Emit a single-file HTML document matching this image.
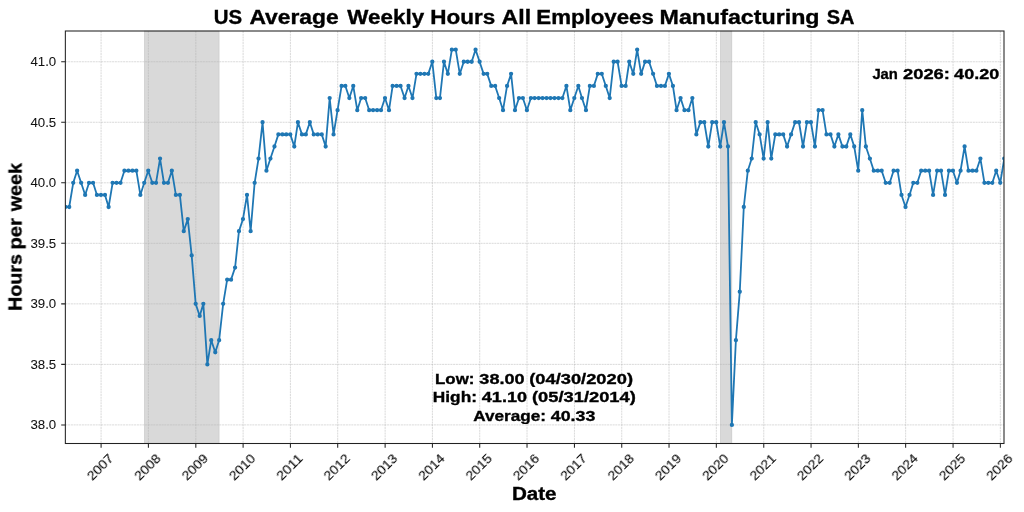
<!DOCTYPE html>
<html><head><meta charset="utf-8"><style>html,body{margin:0;padding:0;background:#fff;}svg{display:block;} text{will-change:transform;}</style></head><body>
<svg width="1024" height="512" viewBox="0 0 1024 512">
<rect width="1024" height="512" fill="#fff"/>
<defs><clipPath id="ax"><rect x="65.35" y="31.0" width="938.65" height="412.5"/></clipPath></defs>
<rect x="144.37" y="31.0" width="74.77" height="412.5" fill="#808080" fill-opacity="0.3" stroke="#808080" stroke-opacity="0.3" stroke-width="0.6"/>
<rect x="720.35" y="31.0" width="11.53" height="412.5" fill="#808080" fill-opacity="0.3" stroke="#808080" stroke-opacity="0.3" stroke-width="0.6"/>
<path d="M101.09 31.0V443.5M148.39 31.0V443.5M195.82 31.0V443.5M243.11 31.0V443.5M290.41 31.0V443.5M337.70 31.0V443.5M385.13 31.0V443.5M432.42 31.0V443.5M479.72 31.0V443.5M527.02 31.0V443.5M574.44 31.0V443.5M621.74 31.0V443.5M669.03 31.0V443.5M716.33 31.0V443.5M763.76 31.0V443.5M811.05 31.0V443.5M858.35 31.0V443.5M905.64 31.0V443.5M953.07 31.0V443.5M1000.36 31.0V443.5M65.35 424.90H1004.0M65.35 364.38H1004.0M65.35 303.85H1004.0M65.35 243.32H1004.0M65.35 182.80H1004.0M65.35 122.27H1004.0M65.35 61.75H1004.0" stroke="#b0b0b0" stroke-width="0.6" stroke-opacity="0.8" stroke-dasharray="2.05 0.7" fill="none"/>
<g clip-path="url(#ax)">
<polyline points="65.33,207.01 69.22,207.01 73.23,182.80 77.12,170.69 81.14,182.80 85.16,194.91 89.04,182.80 93.06,182.80 96.95,194.91 100.96,194.91 104.98,194.91 108.61,207.01 112.63,182.80 116.51,182.80 120.53,182.80 124.42,170.69 128.43,170.69 132.45,170.69 136.34,170.69 140.36,194.91 144.24,182.80 148.26,170.69 152.28,182.80 156.03,182.80 160.05,158.59 163.94,182.80 167.96,182.80 171.84,170.69 175.86,194.91 179.88,194.91 183.76,231.22 187.78,219.11 191.67,255.43 195.69,303.85 199.70,315.96 203.33,303.85 207.35,364.38 211.23,340.16 215.25,352.27 219.14,340.16 223.16,303.85 227.17,279.64 231.06,279.64 235.08,267.54 238.96,231.22 242.98,219.11 247.00,194.91 250.63,231.22 254.64,182.80 258.53,158.59 262.55,122.27 266.44,170.69 270.45,158.59 274.47,146.49 278.36,134.38 282.37,134.38 286.26,134.38 290.28,134.38 294.29,146.49 297.92,122.27 301.94,134.38 305.83,134.38 309.84,122.27 313.73,134.38 317.75,134.38 321.76,134.38 325.65,146.49 329.67,98.06 333.56,134.38 337.57,110.17 341.59,85.96 345.35,85.96 349.36,98.06 353.25,85.96 357.27,110.17 361.16,98.06 365.17,98.06 369.19,110.17 373.08,110.17 377.09,110.17 380.98,110.17 385.00,98.06 389.02,110.17 392.64,85.96 396.66,85.96 400.55,85.96 404.57,98.06 408.45,85.96 412.47,98.06 416.49,73.86 420.37,73.86 424.39,73.86 428.28,73.86 432.29,61.75 436.31,98.06 439.94,98.06 443.96,61.75 447.84,73.86 451.86,49.64 455.75,49.64 459.77,73.86 463.78,61.75 467.67,61.75 471.69,61.75 475.57,49.64 479.59,61.75 483.61,73.86 487.24,73.86 491.25,85.96 495.14,85.96 499.16,98.06 503.04,110.17 507.06,85.96 511.08,73.86 514.97,110.17 518.98,98.06 522.87,98.06 526.89,110.17 530.90,98.06 534.66,98.06 538.68,98.06 542.57,98.06 546.58,98.06 550.47,98.06 554.49,98.06 558.50,98.06 562.39,98.06 566.41,85.96 570.30,110.17 574.31,98.06 578.33,85.96 581.96,98.06 585.97,110.17 589.86,85.96 593.88,85.96 597.77,73.86 601.78,73.86 605.80,85.96 609.69,98.06 613.70,61.75 617.59,61.75 621.61,85.96 625.63,85.96 629.25,61.75 633.27,73.86 637.16,49.64 641.17,73.86 645.06,61.75 649.08,61.75 653.10,73.86 656.98,85.96 661.00,85.96 664.89,85.96 668.90,73.86 672.92,85.96 676.55,110.17 680.57,98.06 684.45,110.17 688.47,110.17 692.36,98.06 696.37,134.38 700.39,122.27 704.28,122.27 708.30,146.49 712.18,122.27 716.20,122.27 720.22,146.49 723.97,122.27 727.99,146.49 731.88,424.90 735.90,340.16 739.78,291.74 743.80,207.01 747.82,170.69 751.70,158.59 755.72,122.27 759.61,134.38 763.63,158.59 767.64,122.27 771.27,158.59 775.29,134.38 779.18,134.38 783.19,134.38 787.08,146.49 791.10,134.38 795.11,122.27 799.00,122.27 803.02,146.49 806.90,122.27 810.92,122.27 814.94,146.49 818.57,110.17 822.58,110.17 826.47,134.38 830.49,134.38 834.38,146.49 838.39,134.38 842.41,146.49 846.30,146.49 850.31,134.38 854.20,146.49 858.22,170.69 862.23,110.17 865.86,146.49 869.88,158.59 873.77,170.69 877.78,170.69 881.67,170.69 885.69,182.80 889.71,182.80 893.59,170.69 897.61,170.69 901.50,194.91 905.51,207.01 909.53,194.91 913.29,182.80 917.31,182.80 921.19,170.69 925.21,170.69 929.10,170.69 933.11,194.91 937.13,170.69 941.02,170.69 945.04,194.91 948.92,170.69 952.94,170.69 956.96,182.80 960.58,170.69 964.60,146.49 968.49,170.69 972.51,170.69 976.39,170.69 980.41,158.59 984.43,182.80 988.31,182.80 992.33,182.80 996.22,170.69 1000.24,182.80 1004.25,158.59" fill="none" stroke="#1f77b4" stroke-width="1.8" stroke-linejoin="round"/>
<path d="M65.33 207.01h0M69.22 207.01h0M73.23 182.80h0M77.12 170.69h0M81.14 182.80h0M85.16 194.91h0M89.04 182.80h0M93.06 182.80h0M96.95 194.91h0M100.96 194.91h0M104.98 194.91h0M108.61 207.01h0M112.63 182.80h0M116.51 182.80h0M120.53 182.80h0M124.42 170.69h0M128.43 170.69h0M132.45 170.69h0M136.34 170.69h0M140.36 194.91h0M144.24 182.80h0M148.26 170.69h0M152.28 182.80h0M156.03 182.80h0M160.05 158.59h0M163.94 182.80h0M167.96 182.80h0M171.84 170.69h0M175.86 194.91h0M179.88 194.91h0M183.76 231.22h0M187.78 219.11h0M191.67 255.43h0M195.69 303.85h0M199.70 315.96h0M203.33 303.85h0M207.35 364.38h0M211.23 340.16h0M215.25 352.27h0M219.14 340.16h0M223.16 303.85h0M227.17 279.64h0M231.06 279.64h0M235.08 267.54h0M238.96 231.22h0M242.98 219.11h0M247.00 194.91h0M250.63 231.22h0M254.64 182.80h0M258.53 158.59h0M262.55 122.27h0M266.44 170.69h0M270.45 158.59h0M274.47 146.49h0M278.36 134.38h0M282.37 134.38h0M286.26 134.38h0M290.28 134.38h0M294.29 146.49h0M297.92 122.27h0M301.94 134.38h0M305.83 134.38h0M309.84 122.27h0M313.73 134.38h0M317.75 134.38h0M321.76 134.38h0M325.65 146.49h0M329.67 98.06h0M333.56 134.38h0M337.57 110.17h0M341.59 85.96h0M345.35 85.96h0M349.36 98.06h0M353.25 85.96h0M357.27 110.17h0M361.16 98.06h0M365.17 98.06h0M369.19 110.17h0M373.08 110.17h0M377.09 110.17h0M380.98 110.17h0M385.00 98.06h0M389.02 110.17h0M392.64 85.96h0M396.66 85.96h0M400.55 85.96h0M404.57 98.06h0M408.45 85.96h0M412.47 98.06h0M416.49 73.86h0M420.37 73.86h0M424.39 73.86h0M428.28 73.86h0M432.29 61.75h0M436.31 98.06h0M439.94 98.06h0M443.96 61.75h0M447.84 73.86h0M451.86 49.64h0M455.75 49.64h0M459.77 73.86h0M463.78 61.75h0M467.67 61.75h0M471.69 61.75h0M475.57 49.64h0M479.59 61.75h0M483.61 73.86h0M487.24 73.86h0M491.25 85.96h0M495.14 85.96h0M499.16 98.06h0M503.04 110.17h0M507.06 85.96h0M511.08 73.86h0M514.97 110.17h0M518.98 98.06h0M522.87 98.06h0M526.89 110.17h0M530.90 98.06h0M534.66 98.06h0M538.68 98.06h0M542.57 98.06h0M546.58 98.06h0M550.47 98.06h0M554.49 98.06h0M558.50 98.06h0M562.39 98.06h0M566.41 85.96h0M570.30 110.17h0M574.31 98.06h0M578.33 85.96h0M581.96 98.06h0M585.97 110.17h0M589.86 85.96h0M593.88 85.96h0M597.77 73.86h0M601.78 73.86h0M605.80 85.96h0M609.69 98.06h0M613.70 61.75h0M617.59 61.75h0M621.61 85.96h0M625.63 85.96h0M629.25 61.75h0M633.27 73.86h0M637.16 49.64h0M641.17 73.86h0M645.06 61.75h0M649.08 61.75h0M653.10 73.86h0M656.98 85.96h0M661.00 85.96h0M664.89 85.96h0M668.90 73.86h0M672.92 85.96h0M676.55 110.17h0M680.57 98.06h0M684.45 110.17h0M688.47 110.17h0M692.36 98.06h0M696.37 134.38h0M700.39 122.27h0M704.28 122.27h0M708.30 146.49h0M712.18 122.27h0M716.20 122.27h0M720.22 146.49h0M723.97 122.27h0M727.99 146.49h0M731.88 424.90h0M735.90 340.16h0M739.78 291.74h0M743.80 207.01h0M747.82 170.69h0M751.70 158.59h0M755.72 122.27h0M759.61 134.38h0M763.63 158.59h0M767.64 122.27h0M771.27 158.59h0M775.29 134.38h0M779.18 134.38h0M783.19 134.38h0M787.08 146.49h0M791.10 134.38h0M795.11 122.27h0M799.00 122.27h0M803.02 146.49h0M806.90 122.27h0M810.92 122.27h0M814.94 146.49h0M818.57 110.17h0M822.58 110.17h0M826.47 134.38h0M830.49 134.38h0M834.38 146.49h0M838.39 134.38h0M842.41 146.49h0M846.30 146.49h0M850.31 134.38h0M854.20 146.49h0M858.22 170.69h0M862.23 110.17h0M865.86 146.49h0M869.88 158.59h0M873.77 170.69h0M877.78 170.69h0M881.67 170.69h0M885.69 182.80h0M889.71 182.80h0M893.59 170.69h0M897.61 170.69h0M901.50 194.91h0M905.51 207.01h0M909.53 194.91h0M913.29 182.80h0M917.31 182.80h0M921.19 170.69h0M925.21 170.69h0M929.10 170.69h0M933.11 194.91h0M937.13 170.69h0M941.02 170.69h0M945.04 194.91h0M948.92 170.69h0M952.94 170.69h0M956.96 182.80h0M960.58 170.69h0M964.60 146.49h0M968.49 170.69h0M972.51 170.69h0M976.39 170.69h0M980.41 158.59h0M984.43 182.80h0M988.31 182.80h0M992.33 182.80h0M996.22 170.69h0M1000.24 182.80h0M1004.25 158.59h0" stroke="#1f77b4" stroke-width="4.3" stroke-linecap="round" fill="none"/>
</g>
<rect x="65.35" y="31.0" width="938.65" height="412.5" fill="none" stroke="#222" stroke-width="1.05"/>
<path d="M101.09 443.5v4.15M148.39 443.5v4.15M195.82 443.5v4.15M243.11 443.5v4.15M290.41 443.5v4.15M337.70 443.5v4.15M385.13 443.5v4.15M432.42 443.5v4.15M479.72 443.5v4.15M527.02 443.5v4.15M574.44 443.5v4.15M621.74 443.5v4.15M669.03 443.5v4.15M716.33 443.5v4.15M763.76 443.5v4.15M811.05 443.5v4.15M858.35 443.5v4.15M905.64 443.5v4.15M953.07 443.5v4.15M1000.36 443.5v4.15M65.35 424.90h-4.15M65.35 364.38h-4.15M65.35 303.85h-4.15M65.35 243.32h-4.15M65.35 182.80h-4.15M65.35 122.27h-4.15M65.35 61.75h-4.15" stroke="#222" stroke-width="1.05" fill="none"/>
<text x="56.2" y="429.40" font-family="Liberation Sans, sans-serif" font-size="12.1" text-anchor="end" textLength="25.8" lengthAdjust="spacingAndGlyphs" fill="#111" stroke="#111" stroke-width="0.05">38.0</text>
<text x="56.2" y="368.88" font-family="Liberation Sans, sans-serif" font-size="12.1" text-anchor="end" textLength="25.8" lengthAdjust="spacingAndGlyphs" fill="#111" stroke="#111" stroke-width="0.05">38.5</text>
<text x="56.2" y="308.35" font-family="Liberation Sans, sans-serif" font-size="12.1" text-anchor="end" textLength="25.8" lengthAdjust="spacingAndGlyphs" fill="#111" stroke="#111" stroke-width="0.05">39.0</text>
<text x="56.2" y="247.82" font-family="Liberation Sans, sans-serif" font-size="12.1" text-anchor="end" textLength="25.8" lengthAdjust="spacingAndGlyphs" fill="#111" stroke="#111" stroke-width="0.05">39.5</text>
<text x="56.2" y="187.30" font-family="Liberation Sans, sans-serif" font-size="12.1" text-anchor="end" textLength="25.8" lengthAdjust="spacingAndGlyphs" fill="#111" stroke="#111" stroke-width="0.05">40.0</text>
<text x="56.2" y="126.77" font-family="Liberation Sans, sans-serif" font-size="12.1" text-anchor="end" textLength="25.8" lengthAdjust="spacingAndGlyphs" fill="#111" stroke="#111" stroke-width="0.05">40.5</text>
<text x="56.2" y="66.25" font-family="Liberation Sans, sans-serif" font-size="12.1" text-anchor="end" textLength="25.8" lengthAdjust="spacingAndGlyphs" fill="#111" stroke="#111" stroke-width="0.05">41.0</text>
<text transform="translate(100.49,467.4) rotate(-45)" x="0" y="4.45" font-family="Liberation Sans, sans-serif" font-size="12.1" text-anchor="middle" textLength="30.8" stroke="#000" stroke-width="0.08" lengthAdjust="spacingAndGlyphs" fill="#000">2007</text>
<text transform="translate(147.79,467.4) rotate(-45)" x="0" y="4.45" font-family="Liberation Sans, sans-serif" font-size="12.1" text-anchor="middle" textLength="30.8" stroke="#000" stroke-width="0.08" lengthAdjust="spacingAndGlyphs" fill="#000">2008</text>
<text transform="translate(195.22,467.4) rotate(-45)" x="0" y="4.45" font-family="Liberation Sans, sans-serif" font-size="12.1" text-anchor="middle" textLength="30.8" stroke="#000" stroke-width="0.08" lengthAdjust="spacingAndGlyphs" fill="#000">2009</text>
<text transform="translate(242.51,467.4) rotate(-45)" x="0" y="4.45" font-family="Liberation Sans, sans-serif" font-size="12.1" text-anchor="middle" textLength="30.8" stroke="#000" stroke-width="0.08" lengthAdjust="spacingAndGlyphs" fill="#000">2010</text>
<text transform="translate(289.81,467.4) rotate(-45)" x="0" y="4.45" font-family="Liberation Sans, sans-serif" font-size="12.1" text-anchor="middle" textLength="30.8" stroke="#000" stroke-width="0.08" lengthAdjust="spacingAndGlyphs" fill="#000">2011</text>
<text transform="translate(337.10,467.4) rotate(-45)" x="0" y="4.45" font-family="Liberation Sans, sans-serif" font-size="12.1" text-anchor="middle" textLength="30.8" stroke="#000" stroke-width="0.08" lengthAdjust="spacingAndGlyphs" fill="#000">2012</text>
<text transform="translate(384.53,467.4) rotate(-45)" x="0" y="4.45" font-family="Liberation Sans, sans-serif" font-size="12.1" text-anchor="middle" textLength="30.8" stroke="#000" stroke-width="0.08" lengthAdjust="spacingAndGlyphs" fill="#000">2013</text>
<text transform="translate(431.82,467.4) rotate(-45)" x="0" y="4.45" font-family="Liberation Sans, sans-serif" font-size="12.1" text-anchor="middle" textLength="30.8" stroke="#000" stroke-width="0.08" lengthAdjust="spacingAndGlyphs" fill="#000">2014</text>
<text transform="translate(479.12,467.4) rotate(-45)" x="0" y="4.45" font-family="Liberation Sans, sans-serif" font-size="12.1" text-anchor="middle" textLength="30.8" stroke="#000" stroke-width="0.08" lengthAdjust="spacingAndGlyphs" fill="#000">2015</text>
<text transform="translate(526.42,467.4) rotate(-45)" x="0" y="4.45" font-family="Liberation Sans, sans-serif" font-size="12.1" text-anchor="middle" textLength="30.8" stroke="#000" stroke-width="0.08" lengthAdjust="spacingAndGlyphs" fill="#000">2016</text>
<text transform="translate(573.84,467.4) rotate(-45)" x="0" y="4.45" font-family="Liberation Sans, sans-serif" font-size="12.1" text-anchor="middle" textLength="30.8" stroke="#000" stroke-width="0.08" lengthAdjust="spacingAndGlyphs" fill="#000">2017</text>
<text transform="translate(621.14,467.4) rotate(-45)" x="0" y="4.45" font-family="Liberation Sans, sans-serif" font-size="12.1" text-anchor="middle" textLength="30.8" stroke="#000" stroke-width="0.08" lengthAdjust="spacingAndGlyphs" fill="#000">2018</text>
<text transform="translate(668.43,467.4) rotate(-45)" x="0" y="4.45" font-family="Liberation Sans, sans-serif" font-size="12.1" text-anchor="middle" textLength="30.8" stroke="#000" stroke-width="0.08" lengthAdjust="spacingAndGlyphs" fill="#000">2019</text>
<text transform="translate(715.73,467.4) rotate(-45)" x="0" y="4.45" font-family="Liberation Sans, sans-serif" font-size="12.1" text-anchor="middle" textLength="30.8" stroke="#000" stroke-width="0.08" lengthAdjust="spacingAndGlyphs" fill="#000">2020</text>
<text transform="translate(763.16,467.4) rotate(-45)" x="0" y="4.45" font-family="Liberation Sans, sans-serif" font-size="12.1" text-anchor="middle" textLength="30.8" stroke="#000" stroke-width="0.08" lengthAdjust="spacingAndGlyphs" fill="#000">2021</text>
<text transform="translate(810.45,467.4) rotate(-45)" x="0" y="4.45" font-family="Liberation Sans, sans-serif" font-size="12.1" text-anchor="middle" textLength="30.8" stroke="#000" stroke-width="0.08" lengthAdjust="spacingAndGlyphs" fill="#000">2022</text>
<text transform="translate(857.75,467.4) rotate(-45)" x="0" y="4.45" font-family="Liberation Sans, sans-serif" font-size="12.1" text-anchor="middle" textLength="30.8" stroke="#000" stroke-width="0.08" lengthAdjust="spacingAndGlyphs" fill="#000">2023</text>
<text transform="translate(905.04,467.4) rotate(-45)" x="0" y="4.45" font-family="Liberation Sans, sans-serif" font-size="12.1" text-anchor="middle" textLength="30.8" stroke="#000" stroke-width="0.08" lengthAdjust="spacingAndGlyphs" fill="#000">2024</text>
<text transform="translate(952.47,467.4) rotate(-45)" x="0" y="4.45" font-family="Liberation Sans, sans-serif" font-size="12.1" text-anchor="middle" textLength="30.8" stroke="#000" stroke-width="0.08" lengthAdjust="spacingAndGlyphs" fill="#000">2025</text>
<text transform="translate(999.76,467.4) rotate(-45)" x="0" y="4.45" font-family="Liberation Sans, sans-serif" font-size="12.1" text-anchor="middle" textLength="30.8" stroke="#000" stroke-width="0.08" lengthAdjust="spacingAndGlyphs" fill="#000">2026</text>
<text x="213.67" y="23.50" font-family="Liberation Sans, sans-serif" font-weight="bold" font-size="20.00" textLength="28.38" lengthAdjust="spacingAndGlyphs" fill="#000" stroke="#000" stroke-width="0.35">US</text>
<text x="249.43" y="23.50" font-family="Liberation Sans, sans-serif" font-weight="bold" font-size="20.00" textLength="89.27" lengthAdjust="spacingAndGlyphs" fill="#000" stroke="#000" stroke-width="0.35">Average</text>
<text x="347.34" y="23.50" font-family="Liberation Sans, sans-serif" font-weight="bold" font-size="20.00" textLength="76.79" lengthAdjust="spacingAndGlyphs" fill="#000" stroke="#000" stroke-width="0.35">Weekly</text>
<text x="430.28" y="23.50" font-family="Liberation Sans, sans-serif" font-weight="bold" font-size="20.00" textLength="64.96" lengthAdjust="spacingAndGlyphs" fill="#000" stroke="#000" stroke-width="0.35">Hours</text>
<text x="501.52" y="23.50" font-family="Liberation Sans, sans-serif" font-weight="bold" font-size="20.00" textLength="29.61" lengthAdjust="spacingAndGlyphs" fill="#000" stroke="#000" stroke-width="0.35">All</text>
<text x="536.30" y="23.50" font-family="Liberation Sans, sans-serif" font-weight="bold" font-size="20.00" textLength="117.60" lengthAdjust="spacingAndGlyphs" fill="#000" stroke="#000" stroke-width="0.35">Employees</text>
<text x="659.63" y="23.50" font-family="Liberation Sans, sans-serif" font-weight="bold" font-size="20.00" textLength="159.91" lengthAdjust="spacingAndGlyphs" fill="#000" stroke="#000" stroke-width="0.35">Manufacturing</text>
<text x="826.70" y="23.50" font-family="Liberation Sans, sans-serif" font-weight="bold" font-size="20.00" textLength="27.73" lengthAdjust="spacingAndGlyphs" fill="#000" stroke="#000" stroke-width="0.35">SA</text>
<text x="511.91" y="499.70" font-family="Liberation Sans, sans-serif" font-weight="bold" font-size="18.04" textLength="44.66" lengthAdjust="spacingAndGlyphs" fill="#000" stroke="#000" stroke-width="0.35">Date</text>
<g transform="translate(21.56,0) rotate(-90)"><text x="-311.14" y="0.00" font-family="Liberation Sans, sans-serif" font-weight="bold" font-size="18.18" textLength="57.16" lengthAdjust="spacingAndGlyphs" fill="#000" stroke="#000" stroke-width="0.35">Hours</text></g>
<g transform="translate(21.56,0) rotate(-90)"><text x="-249.62" y="0.00" font-family="Liberation Sans, sans-serif" font-weight="bold" font-size="18.18" textLength="31.49" lengthAdjust="spacingAndGlyphs" fill="#000" stroke="#000" stroke-width="0.35">per</text></g>
<g transform="translate(21.56,0) rotate(-90)"><text x="-211.35" y="0.00" font-family="Liberation Sans, sans-serif" font-weight="bold" font-size="18.18" textLength="48.23" lengthAdjust="spacingAndGlyphs" fill="#000" stroke="#000" stroke-width="0.35">week</text></g>
<text x="872.38" y="78.90" font-family="Liberation Sans, sans-serif" font-weight="bold" font-size="14.98" textLength="25.52" lengthAdjust="spacingAndGlyphs" fill="#000" stroke="#000" stroke-width="0.35">Jan</text>
<text x="902.96" y="78.90" font-family="Liberation Sans, sans-serif" font-weight="bold" font-size="14.98" textLength="46.99" lengthAdjust="spacingAndGlyphs" fill="#000" stroke="#000" stroke-width="0.35">2026:</text>
<text x="954.13" y="78.90" font-family="Liberation Sans, sans-serif" font-weight="bold" font-size="14.98" textLength="45.09" lengthAdjust="spacingAndGlyphs" fill="#000" stroke="#000" stroke-width="0.35">40.20</text>
<text x="435.06" y="383.50" font-family="Liberation Sans, sans-serif" font-weight="bold" font-size="14.91" textLength="39.34" lengthAdjust="spacingAndGlyphs" fill="#000" stroke="#000" stroke-width="0.35">Low:</text>
<text x="479.39" y="383.50" font-family="Liberation Sans, sans-serif" font-weight="bold" font-size="14.91" textLength="45.33" lengthAdjust="spacingAndGlyphs" fill="#000" stroke="#000" stroke-width="0.35">38.00</text>
<text x="529.18" y="383.50" font-family="Liberation Sans, sans-serif" font-weight="bold" font-size="14.91" textLength="103.85" lengthAdjust="spacingAndGlyphs" fill="#000" stroke="#000" stroke-width="0.35">(04/30/2020)</text>
<text x="432.83" y="402.00" font-family="Liberation Sans, sans-serif" font-weight="bold" font-size="14.91" textLength="44.10" lengthAdjust="spacingAndGlyphs" fill="#000" stroke="#000" stroke-width="0.35">High:</text>
<text x="481.83" y="402.00" font-family="Liberation Sans, sans-serif" font-weight="bold" font-size="14.91" textLength="45.19" lengthAdjust="spacingAndGlyphs" fill="#000" stroke="#000" stroke-width="0.35">41.10</text>
<text x="531.98" y="402.00" font-family="Liberation Sans, sans-serif" font-weight="bold" font-size="14.91" textLength="103.85" lengthAdjust="spacingAndGlyphs" fill="#000" stroke="#000" stroke-width="0.35">(05/31/2014)</text>
<text x="473.17" y="420.60" font-family="Liberation Sans, sans-serif" font-weight="bold" font-size="14.91" textLength="72.76" lengthAdjust="spacingAndGlyphs" fill="#000" stroke="#000" stroke-width="0.35">Average:</text>
<text x="550.83" y="420.60" font-family="Liberation Sans, sans-serif" font-weight="bold" font-size="14.91" textLength="44.49" lengthAdjust="spacingAndGlyphs" fill="#000" stroke="#000" stroke-width="0.35">40.33</text>
</svg>
</body></html>
